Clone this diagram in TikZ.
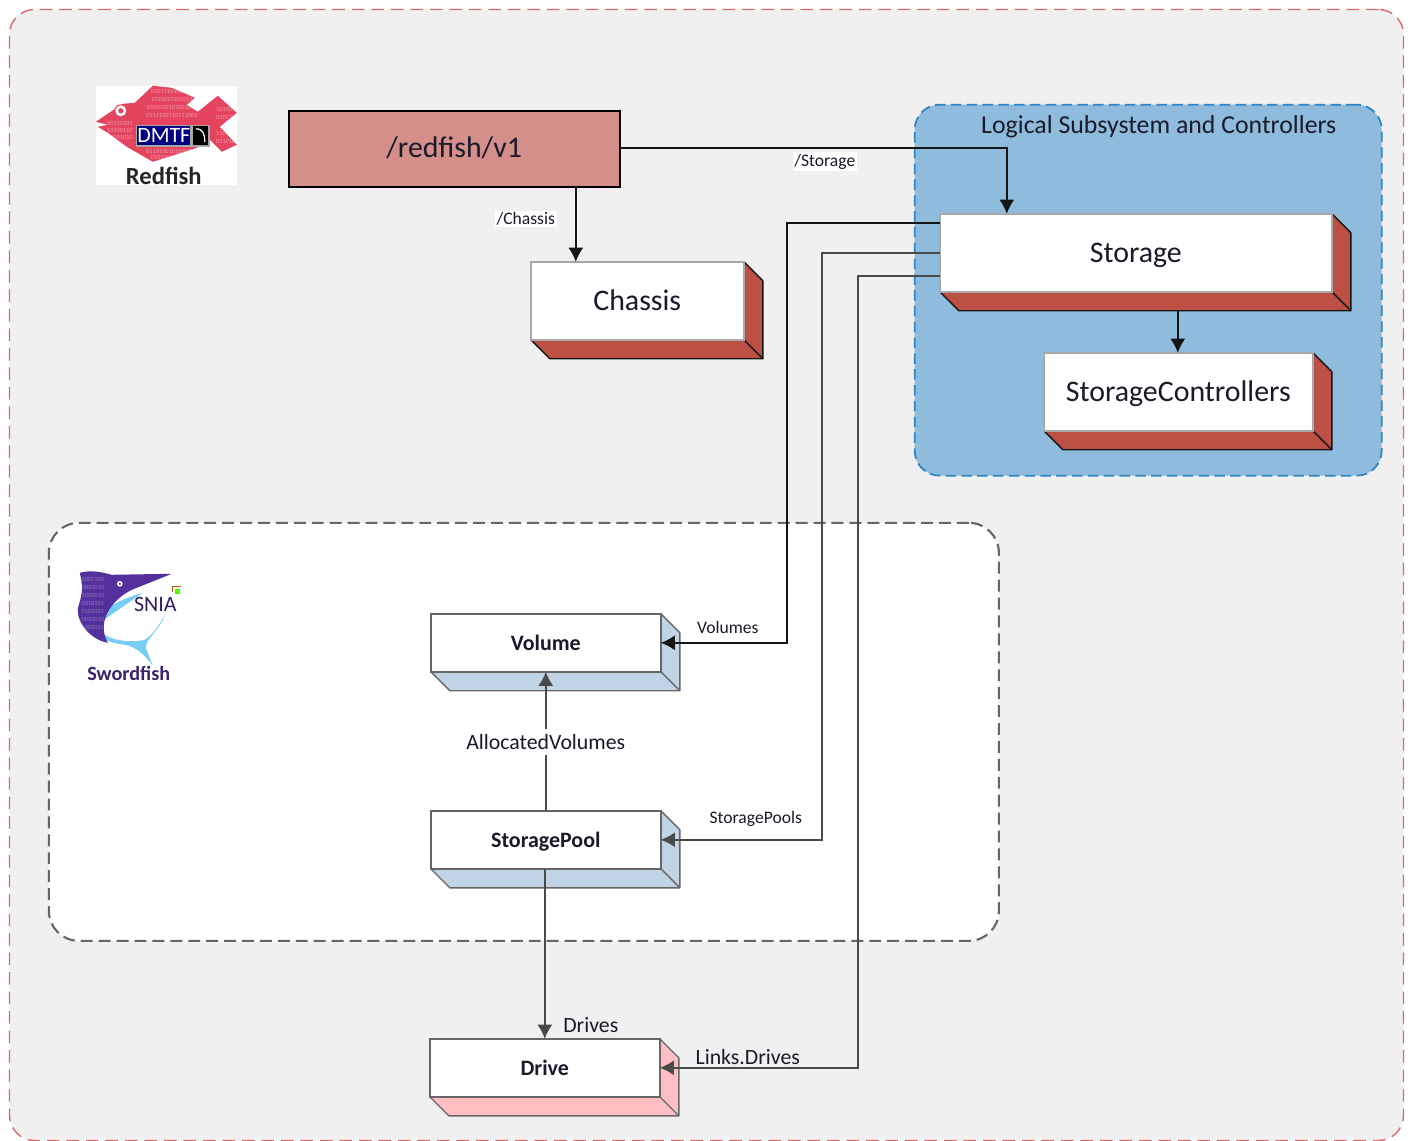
\documentclass[tikz,border=0pt]{standalone}
\usepackage{fontspec}
\setmainfont{Carlito}
\usetikzlibrary{arrows.meta}
\definecolor{pageg}{HTML}{F0F0F0}
\definecolor{redd}{HTML}{D9696A}
\definecolor{bluef}{HTML}{8FBBDC}
\definecolor{blued}{HTML}{2E86C8}
\definecolor{rootf}{HTML}{D48F8A}
\definecolor{brick}{HTML}{BC5044}
\definecolor{pale}{HTML}{C0D4E6}
\definecolor{pinkf}{HTML}{FFBFC2}
\definecolor{linek}{HTML}{151515}
\definecolor{lineg}{HTML}{4A4A4A}
\definecolor{boxg}{HTML}{666666}
\definecolor{softg}{HTML}{A8A8A8}
\definecolor{fishr}{HTML}{E5445F}
\definecolor{sfp}{HTML}{54309C}
\definecolor{sfb}{HTML}{78CDF5}
\definecolor{txtd}{HTML}{1A1A2A}
\tikzset{
  x=0.02cm,y=-0.02cm,
  front/.style={draw=#1,line width=1.1pt,fill=white,inner sep=0pt,outer sep=0pt,anchor=north west,align=center,text depth=0pt},
  side/.style={line join=round,line width=0.8pt},
  conn/.style={draw=linek,line width=0.85pt,-{Latex[length=8pt,width=8.5pt]}},
  conng/.style={draw=lineg,line width=0.85pt,-{Latex[length=8pt,width=8.5pt]}},
  biglab/.style={font=\fontsize{17}{19}\selectfont,text=txtd,text height=11.4pt},
  boldlab/.style={font=\fontsize{12.5}{14}\selectfont\bfseries,text=txtd,text height=8.6pt},
  smlab/.style={font=\fontsize{10}{12}\selectfont,text=txtd,inner sep=1pt},
  midlab/.style={font=\fontsize{12.4}{14}\selectfont,text=txtd,inner sep=1pt},
  digits/.style={font=\fontsize{3.6}{4}\selectfont,inner sep=0pt},
}
% name, x1, y1, width, height, depth colour, side line colour, front line colour + text style, text
\newcommand{\cuboid}[9]{%
  \path[side,draw=#7,fill=#6] (#2,#3) ++(#4,0) -- ++(19,19) -- ++(0,#5) -- ++(-#4,0) -- ++(-19,-19) -- ++(#4,0) -- cycle;
  \draw[side,draw=#7] (#2,#3) ++(#4,#5) -- ++(19,19);
  \node[minimum width=#4*0.02cm,minimum height=#5*0.02cm,#8] (#1) at (#2,#3) {#9};
}
\begin{document}
\begin{tikzpicture}
\useasboundingbox (0.2,0.2) rectangle (1411.2,1141.2);
\fill[white] (0,0) rectangle (1412,1142);
\node[draw=redd,dash pattern=on 7.2pt off 3.9pt,fill=pageg,line width=0.8pt,rounded corners=0.5cm,minimum width=1394*0.02cm,minimum height=1131*0.02cm,anchor=north west,inner sep=0pt] (page) at (9,9) {};
\node[draw=blued,dash pattern=on 6pt off 3pt,fill=bluef,line width=1pt,rounded corners=0.5cm,minimum width=467*0.02cm,minimum height=371*0.02cm,anchor=north west,inner sep=0pt] (logical) at (914,104) {};
\node[draw=boxg,dash pattern=on 6.8pt off 3.4pt,fill=white,line width=1.2pt,rounded corners=0.6cm,minimum width=950*0.02cm,minimum height=418*0.02cm,anchor=north west,inner sep=0pt] (sfarea) at (48,522) {};
\node[font=\fontsize{14.7}{16}\selectfont,text=txtd,inner sep=0pt] (logtitle) at (1159,126.5) {Logical Subsystem and Controllers};

% Redfish logo
\fill[white] (96,86) rectangle (237,185);
\begin{scope}
\clip (96,122) -- (123,104) -- (135,103) -- (153,86) -- (172,88) -- (195,98) -- (187,105) -- (198,112) -- (218,96) -- (237,113) -- (220,127) -- (237,145) -- (222,152) -- (208,138) -- (197,148) -- (153,162) -- (127,147) -- (108,133) -- (98,127) -- (108,125) -- cycle;
\fill[fishr] (90,80) rectangle (240,170);
\foreach \yy/\ss in {92/0101110100011,100/1010010101011,108/1001010101001011,116/0111100110111001,152/0110100101010011,158/0101100100110}
  \node[digits,text=white!45!fishr] at (172,\yy) {\ss};
\foreach \yy/\ss in {124/00110101,131/10100110,138/01001010}
  \node[digits,text=white!45!fishr] at (120,\yy) {\ss};
\foreach \yy/\ss in {110/101001,118/010110,134/110101,142/011010}
  \node[digits,text=white!45!fishr] at (226,\yy) {\ss};
\end{scope}
\fill[fishr] (121,111) circle (6.5);
\fill[white] (121,111) circle (5.5);
\fill[fishr] (121,111) circle (2.6);
\fill[gray!70] (136,125) rectangle (210,147);
\fill[blue!50!black] (137,126) rectangle (190,145);
\fill[black] (193,126) rectangle (208,145);
\draw[white,line width=0.7pt] (196,129) .. controls (203,129) and (205,134) .. (205,142);
\node[font=\fontsize{12.5}{13}\selectfont,text=white,inner sep=0pt] (dmtf) at (164,135.5) {DMTF};
\node[font=\fontsize{14}{16}\selectfont\bfseries,text=black!85,inner sep=0pt] (redfish) at (164,176) {Redfish};

% Swordfish logo
\fill[sfb] (143,593) .. controls (118,600) and (96,612) .. (97,625) .. controls (100,640) and (130,644) .. (145,640) .. controls (152,636) and (160,625) .. (165,615) .. controls (162,628) and (145,640) .. (146,648) -- (153,666) .. controls (145,655) and (136,647) .. (125,645) .. controls (110,643) and (98,640) .. (97,625) -- cycle;
\fill[white] (118,617) .. controls (128,612) and (137,618) .. (142,628) .. controls (133,632) and (122,627) .. (118,617) -- cycle;
\begin{scope}
\clip (80,573) .. controls (92,570) and (100,572) .. (112,575) -- (172,574) -- (137,588) .. controls (115,596) and (95,620) .. (108,643) .. controls (90,640) and (74,620) .. (79,605) .. controls (84,590) and (82,582) .. (80,573) -- cycle;
\fill[sfp] (70,565) rectangle (175,650);
\foreach \yy/\ss in {580/0001100,588/0010010,596/1000010,604/0010101,612/0101001,620/0010010,628/1001011}
  \node[digits,text=white!35!sfp] at (93,\yy) {\ss};
\end{scope}
\fill[white] (120,584) circle (2.8);
\fill[sfp] (120,584) circle (1.2);
\fill[green!70!yellow] (175,589) rectangle (180,594);
\draw[orange!70!black,line width=0.5pt] (173,592) -- (173,587) -- (181,587);
\node[font=\fontsize{12.5}{13}\selectfont,text=sfp!60!black,inner sep=0pt] (snia) at (155.5,604.5) {SNIA};
\node[font=\fontsize{11.5}{13}\selectfont\bfseries,text=sfp!70!black,inner sep=0pt] (swordfish) at (129,674) {Swordfish};

% connector ends
\coordinate (s1) at (940,223);
\coordinate (s2) at (940,253);
\coordinate (s3) at (940,276);
\coordinate (b1) at (787,643);
\coordinate (b2) at (822,840);
\coordinate (b3) at (858,1068);

% boxes
\node[draw=black,fill=rootf,line width=1pt,minimum width=331*0.02cm,minimum height=76*0.02cm,anchor=north west,inner sep=0pt,biglab,text height=10.2pt,text depth=0pt] (root) at (288,110) {/redfish/v1};
\cuboid{chassis}{531}{262}{213}{78}{brick}{linek}{front=softg,biglab}{Chassis}
\cuboid{storage}{940}{214}{392}{78}{brick}{linek}{front=softg,biglab}{Storage}
\cuboid{ctrl}{1044}{353}{269}{78}{brick}{linek}{front=softg,biglab}{StorageControllers}
\cuboid{volume}{431}{614}{230}{58}{pale}{boxg}{front=boxg,boldlab}{Volume}
\cuboid{pool}{431}{811}{230}{58}{pale}{boxg}{front=boxg,boldlab}{StoragePool}
\cuboid{drive}{430}{1039}{230}{58}{pinkf}{boxg}{front=boxg,boldlab}{Drive}

% connectors
\coordinate (rootout) at (619,148);
\coordinate (st) at (1007,214);
\draw[conn] (rootout) -| (st);
\coordinate (rc) at (576,186);
\coordinate (ch) at (576,262);
\draw[conn] (rc) -- (ch);
\coordinate (sb) at (1178,311);
\coordinate (ct) at (1178,353);
\draw[conn] (sb) -- (ct);
\coordinate (vr) at (661,643);
\coordinate (pr) at (661,840);
\coordinate (dr) at (660,1068);
\draw[conn] (s1) -| (b1) -- (vr);
\draw[conng] (s2) -| (b2) -- (pr);
\draw[conng] (s3) -| (b3) -- (dr);
\coordinate (pt) at (546,811);
\coordinate (vb) at (546,672);
\draw[conng] (pt) -- (vb);
\coordinate (pb) at (545,869);
\coordinate (dt) at (545,1039);
\draw[conng] (pb) -- (dt);

% labels
\node[smlab,fill=white] (lstorage) at (825,162) {/Storage};
\node[smlab,fill=white] (lchassis) at (526,219) {/Chassis};
\node[smlab] (lvol) at (728,628) {Volumes};
\node[smlab] (lpools) at (756,819) {StoragePools};
\node[midlab,fill=white,inner ysep=3pt] (lalloc) at (546,742) {AllocatedVolumes};
\node[midlab] (ldrives) at (591,1025) {Drives};
\node[midlab] (llinks) at (748,1057) {Links.Drives};
\end{tikzpicture}
\end{document}
